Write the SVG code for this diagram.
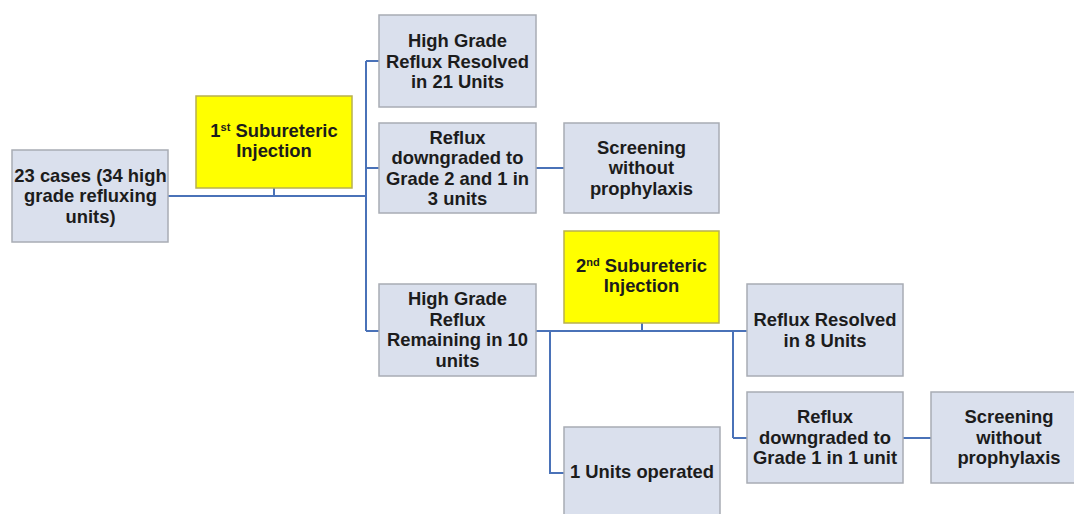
<svg xmlns="http://www.w3.org/2000/svg" width="1074" height="514" viewBox="0 0 1074 514">
  <style>
    .box { fill: #dae0ed; stroke: #a8acb4; stroke-width: 1.5; }
    .hl { fill: #ffff00; stroke: #b8b050; stroke-width: 1.5; }
    .t { font-family: "Liberation Sans", Arial, sans-serif; font-weight: bold; font-size: 18.4px; fill: #1c1c1c; text-anchor: middle; }
    .sup { font-size: 11px; }
    .wire { fill: none; stroke: #4a72b8; stroke-width: 2; }
  </style>
  <rect width="1074" height="514" fill="#ffffff"/>

  <g id="connectors">
    <!-- trunk from the case box through the first injection to the first-stage outcomes -->
    <path class="wire" d="M168,196 H366"/>
    <path class="wire" d="M274,188 V196"/>
    <path class="wire" d="M366,61 V331"/>
    <path class="wire" d="M366,61 H379"/>
    <path class="wire" d="M366,168 H379"/>
    <path class="wire" d="M366,331 H379"/>
    <path class="wire" d="M536,168 H564"/>
    <!-- second stage -->
    <path class="wire" d="M536,331 H733"/>
    <path class="wire" d="M642,323 V331"/>
    <path class="wire" d="M550,331 V473 H564"/>
    <path class="wire" d="M733,331 V438"/>
    <path class="wire" d="M733,331 H747"/>
    <path class="wire" d="M733,438 H747"/>
    <path class="wire" d="M903,438 H931"/>
  </g>

  <g id="cases">
    <rect class="box" x="12" y="150" width="156" height="92"/>
    <text class="t" x="90.5" y="181.5">23 cases (34 high</text>
    <text class="t" x="90.5" y="202">grade refluxing</text>
    <text class="t" x="90.5" y="222.5">units)</text>
  </g>

  <g id="injection1">
    <rect class="hl" x="196" y="96" width="156" height="92"/>
    <text class="t" x="274" y="137">1<tspan class="sup" dy="-6">st</tspan><tspan dy="6"> Subureteric</tspan></text>
    <text class="t" x="274" y="157">Injection</text>
  </g>

  <g id="resolved21">
    <rect class="box" x="379" y="15" width="157" height="92"/>
    <text class="t" x="457.5" y="47">High Grade</text>
    <text class="t" x="457.5" y="67.5">Reflux Resolved</text>
    <text class="t" x="457.5" y="88">in 21 Units</text>
  </g>

  <g id="downgraded3">
    <rect class="box" x="379" y="123" width="157" height="90"/>
    <text class="t" x="457.5" y="143.5">Reflux</text>
    <text class="t" x="457.5" y="164">downgraded to</text>
    <text class="t" x="457.5" y="184.5">Grade 2 and 1 in</text>
    <text class="t" x="457.5" y="205">3 units</text>
  </g>

  <g id="screening1">
    <rect class="box" x="564" y="123" width="155" height="90"/>
    <text class="t" x="641.5" y="153.5">Screening</text>
    <text class="t" x="641.5" y="174">without</text>
    <text class="t" x="641.5" y="194.5">prophylaxis</text>
  </g>

  <g id="remaining10">
    <rect class="box" x="379" y="284" width="157" height="92"/>
    <text class="t" x="457.5" y="305">High Grade</text>
    <text class="t" x="457.5" y="325.5">Reflux</text>
    <text class="t" x="457.5" y="346">Remaining in 10</text>
    <text class="t" x="457.5" y="366.5">units</text>
  </g>

  <g id="injection2">
    <rect class="hl" x="564" y="231" width="155" height="92"/>
    <text class="t" x="641.5" y="272">2<tspan class="sup" dy="-6">nd</tspan><tspan dy="6"> Subureteric</tspan></text>
    <text class="t" x="641.5" y="292">Injection</text>
  </g>

  <g id="operated">
    <rect class="box" x="564" y="427" width="156" height="92"/>
    <text class="t" x="642" y="478">1 Units operated</text>
  </g>

  <g id="resolved8">
    <rect class="box" x="747" y="284" width="156" height="92"/>
    <text class="t" x="825" y="326">Reflux Resolved</text>
    <text class="t" x="825" y="346.5">in 8 Units</text>
  </g>

  <g id="downgraded1">
    <rect class="box" x="747" y="392" width="156" height="91"/>
    <text class="t" x="825" y="423">Reflux</text>
    <text class="t" x="825" y="443.5">downgraded to</text>
    <text class="t" x="825" y="464">Grade 1 in 1 unit</text>
  </g>

  <g id="screening2">
    <rect class="box" x="931" y="392" width="156" height="91"/>
    <text class="t" x="1009" y="423">Screening</text>
    <text class="t" x="1009" y="443.5">without</text>
    <text class="t" x="1009" y="464">prophylaxis</text>
  </g>
</svg>
